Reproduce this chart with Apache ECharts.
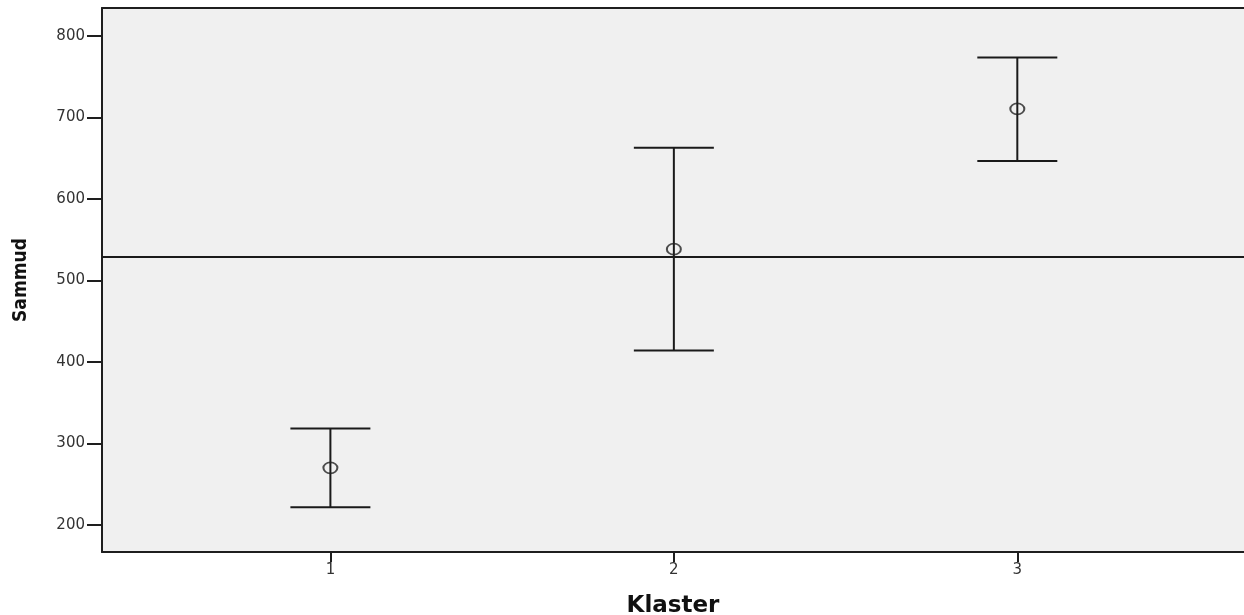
<!DOCTYPE html>
<html>
<head>
<meta charset="utf-8">
<script src="https://cdn.jsdelivr.net/npm/echarts@6/dist/echarts.min.js"></script>
<style>html,body{margin:0;padding:0;background:#fff;}#c{width:1244px;height:615px;}</style>
</head>
<body>
<div id="c"></div>
<script>
const categories = [1, 2, 3];
const means = [270.2, 538.3, 710.3];
const lowers = [222, 414, 646.5];
const uppers = [318.5, 662.5, 773.3];
const referenceValue = 528.5;
const yTicks = [200, 300, 400, 500, 600, 700, 800];

const chart = echarts.init(document.getElementById('c'), null, {renderer: 'canvas'});
const ink = '#1e1e1e';

const barData = categories.map((c, i) => [c, lowers[i], uppers[i]]);
const meanData = categories.map((c, i) => [c, means[i]]);

chart.setOption({
  animation: false,
  backgroundColor: '#ffffff',
  grid: {left: 102, right: 0, top: 8, bottom: 63, show: true, backgroundColor: '#f0f0f0', borderWidth: 0, outerBoundsMode: 'none', containLabel: false},
  xAxis: [{
    type: 'value', min: 0.335, max: 3.66,
    name: 'Klaster', nameLocation: 'middle', nameGap: 43,
    nameTextStyle: {fontFamily: 'DejaVu Sans', fontWeight: 'bold', fontSize: 23, color: '#111'},
    axisLine: {show: true, onZero: false, lineStyle: {color: ink, width: 2}},
    axisTick: {show: true, length: 10, lineStyle: {color: ink, width: 2}, customValues: categories},
    axisLabel: {margin: 11, fontFamily: 'DejaVu Sans', fontSize: 15, color: '#333', customValues: categories},
    splitLine: {show: false}
  }, {
    type: 'value', min: 0.335, max: 3.66, position: 'top',
    axisLine: {show: true, onZero: false, lineStyle: {color: ink, width: 2}},
    axisTick: {show: false}, axisLabel: {show: false}, splitLine: {show: false}
  }],
  yAxis: {
    type: 'value', min: 167, max: 834,
    name: 'Sammud', nameLocation: 'middle', nameGap: 71, nameRotate: 90,
    nameTextStyle: {fontFamily: "'Liberation Sans Narrow', 'DejaVu Sans Condensed', 'Liberation Sans', sans-serif", fontWeight: 'bold', fontSize: 19, color: '#111'},
    axisLine: {show: true, onZero: false, lineStyle: {color: ink, width: 2}},
    axisTick: {show: true, length: 15, lineStyle: {color: ink, width: 2}, customValues: yTicks},
    axisLabel: {margin: 17, fontFamily: 'DejaVu Sans', fontSize: 15, color: '#333', customValues: yTicks},
    splitLine: {show: false}
  },
  series: [{
    type: 'custom',
    data: barData,
    encode: {x: 0, y: [1, 2]},
    z: 3,
    renderItem: function (params, api) {
      const x = api.value(0);
      const lo = api.coord([x, api.value(1)]);
      const hi = api.coord([x, api.value(2)]);
      const hw = 40;
      const style = {stroke: '#1a1a1a', lineWidth: 2};
      return {
        type: 'group',
        children: [
          {type: 'line', shape: {x1: lo[0], y1: lo[1], x2: hi[0], y2: hi[1]}, style: style},
          {type: 'line', shape: {x1: lo[0] - hw, y1: lo[1], x2: lo[0] + hw, y2: lo[1]}, style: style},
          {type: 'line', shape: {x1: hi[0] - hw, y1: hi[1], x2: hi[0] + hw, y2: hi[1]}, style: style}
        ]
      };
    },
    markLine: {
      silent: true, symbol: ['none', 'none'], label: {show: false},
      lineStyle: {color: '#1a1a1a', width: 2, type: 'solid'},
      data: [{yAxis: referenceValue}]
    }
  }, {
    type: 'scatter',
    data: meanData,
    z: 4,
    symbol: 'circle',
    symbolSize: [14, 11],
    itemStyle: {color: 'transparent', borderColor: '#222', borderWidth: 1.8}
  }]
});
</script>
</body>
</html>
